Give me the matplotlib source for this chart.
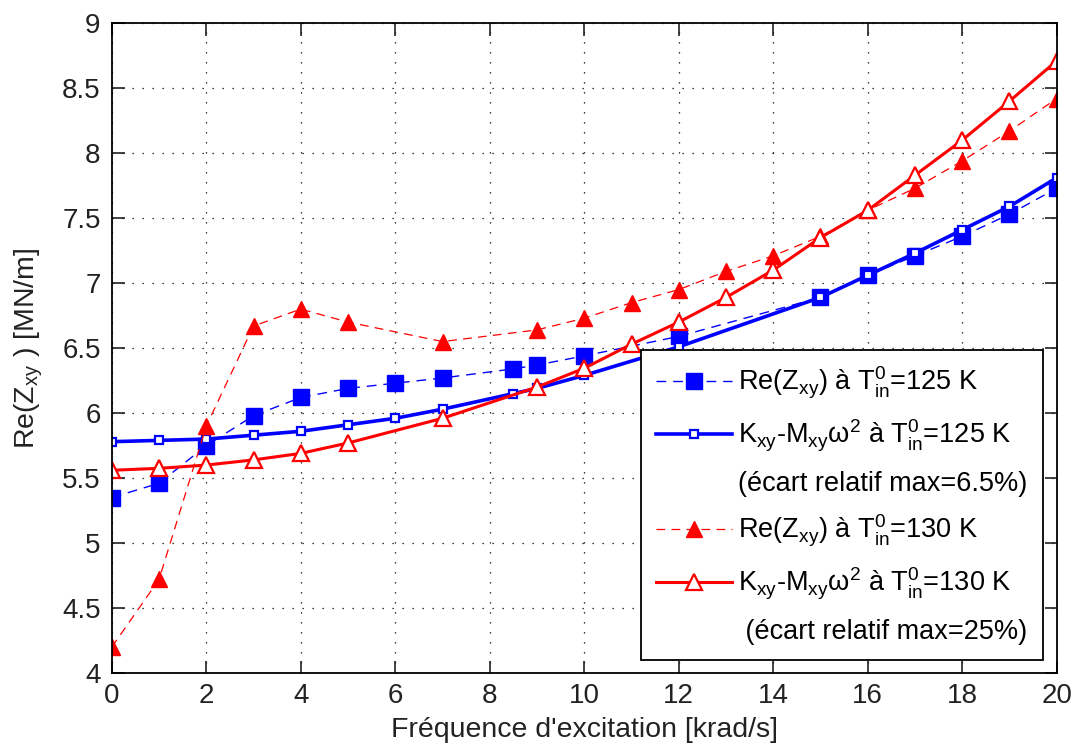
import matplotlib
matplotlib.use('Agg')
import matplotlib.pyplot as plt
from matplotlib.lines import Line2D

plt.rcParams['font.family'] = ['Liberation Sans', 'DejaVu Sans']
plt.rcParams['mathtext.fontset'] = 'custom'
plt.rcParams['mathtext.rm'] = 'Liberation Sans'
plt.rcParams['mathtext.it'] = 'Liberation Sans'
plt.rcParams['mathtext.default'] = 'regular'

# Données
x_125 = [0, 1, 2, 3, 4, 5, 6, 7, 8.5, 9, 10, 12, 15, 16, 17, 18, 19, 20]
re_125 = [5.35, 5.46, 5.75, 5.98, 6.12, 6.19, 6.23, 6.27, 6.34, 6.37, 6.44, 6.59,
          6.89, 7.06, 7.21, 7.36, 7.53, 7.73]
k_125 = [5.78, 5.79, 5.80, 5.83, 5.86, 5.91, 5.96, 6.03, 6.15, 6.19, 6.29, 6.51,
         6.89, 7.06, 7.23, 7.41, 7.59, 7.81]

x_130 = [0, 1, 2, 3, 4, 5, 7, 9, 10, 11, 12, 13, 14, 15, 16, 17, 18, 19, 20]
re_130 = [4.20, 4.72, 5.90, 6.67, 6.80, 6.70, 6.55, 6.64, 6.73, 6.85, 6.95, 7.09,
          7.21, 7.36, 7.56, 7.73, 7.94, 8.17, 8.42]
k_130 = [5.56, 5.575, 5.60, 5.64, 5.69, 5.77, 5.96, 6.20, 6.345, 6.53, 6.70, 6.89,
         7.10, 7.35, 7.56, 7.83, 8.10, 8.40, 8.71]

lab_re125 = 'Re(Z$_{xy}$) à T$^{0}_{in}$=125 K'
lab_k125 = 'K$_{xy}$-M$_{xy}$$\\omega^{2}$ à T$^{0}_{in}$=125 K'
lab_ec125 = '(écart relatif max=6.5%)'
lab_re130 = 'Re(Z$_{xy}$) à T$^{0}_{in}$=130 K'
lab_k130 = 'K$_{xy}$-M$_{xy}$$\\omega^{2}$ à T$^{0}_{in}$=130 K'
lab_ec130 = ' (écart relatif max=25%)'

fig = plt.figure(figsize=(10.75, 7.47), dpi=100)
ax = fig.add_axes([0.104, 0.099, 0.879, 0.870])

l1, = ax.plot(x_125, re_125, color='blue', lw=1.0, dashes=(7, 5),
              marker='s', markersize=11.5, markerfacecolor='blue', markeredgecolor='blue')
l2, = ax.plot(x_125, k_125, color='blue', lw=2.6, linestyle='-',
              marker='s', markersize=5.5, markerfacecolor='white',
              markeredgecolor='blue', markeredgewidth=1.6)
l3, = ax.plot(x_130, re_130, color='red', lw=0.9, dashes=(7, 5),
              marker='^', markersize=12, markerfacecolor='red', markeredgecolor='red')
l4, = ax.plot(x_130, k_130, color='red', lw=2.2, linestyle='-',
              marker='^', markersize=11, markerfacecolor='white',
              markeredgecolor='red', markeredgewidth=1.6)

blank1 = Line2D([], [], linestyle='none')
blank2 = Line2D([], [], linestyle='none')

ax.set_xlim(0, 20)
ax.set_ylim(4, 9)
ax.set_xticks(range(0, 21, 2))
ax.set_yticks([4, 4.5, 5, 5.5, 6, 6.5, 7, 7.5, 8, 8.5, 9])
ax.set_yticklabels(['4', '4.5', '5', '5.5', '6', '6.5', '7', '7.5', '8', '8.5', '9'])

ax.grid(True, color='black', linestyle=(0, (1, 7)), linewidth=0.9)
ax.tick_params(direction='in', length=9, width=1.2, top=True, right=True,
               labelsize=20, colors='#222222')
ax.tick_params(axis='x', pad=7)
ax.tick_params(axis='y', pad=8)
for s in ax.spines.values():
    s.set_linewidth(1.3)

ax.set_xlabel("Fréquence d'excitation [krad/s]", fontsize=20.5, color='#222222', labelpad=6)
ax.set_ylabel('Re(Z$_{xy}$ ) [MN/m]', fontsize=20.5, color='#222222', labelpad=12)

leg = ax.legend([l1, l2, blank1, l3, l4, blank2],
                [lab_re125, lab_k125, lab_ec125, lab_re130, lab_k130, lab_ec130],
                loc='lower right', bbox_to_anchor=(0.985, 0.02), borderaxespad=0,
                fontsize=19.5, numpoints=1, handlelength=2.8, handletextpad=0.25,
                labelspacing=0.62, fancybox=False, framealpha=1,
                edgecolor='black', borderpad=0.55)
leg.get_frame().set_linewidth(1.3)

fig.savefig('out.png', dpi=100)
